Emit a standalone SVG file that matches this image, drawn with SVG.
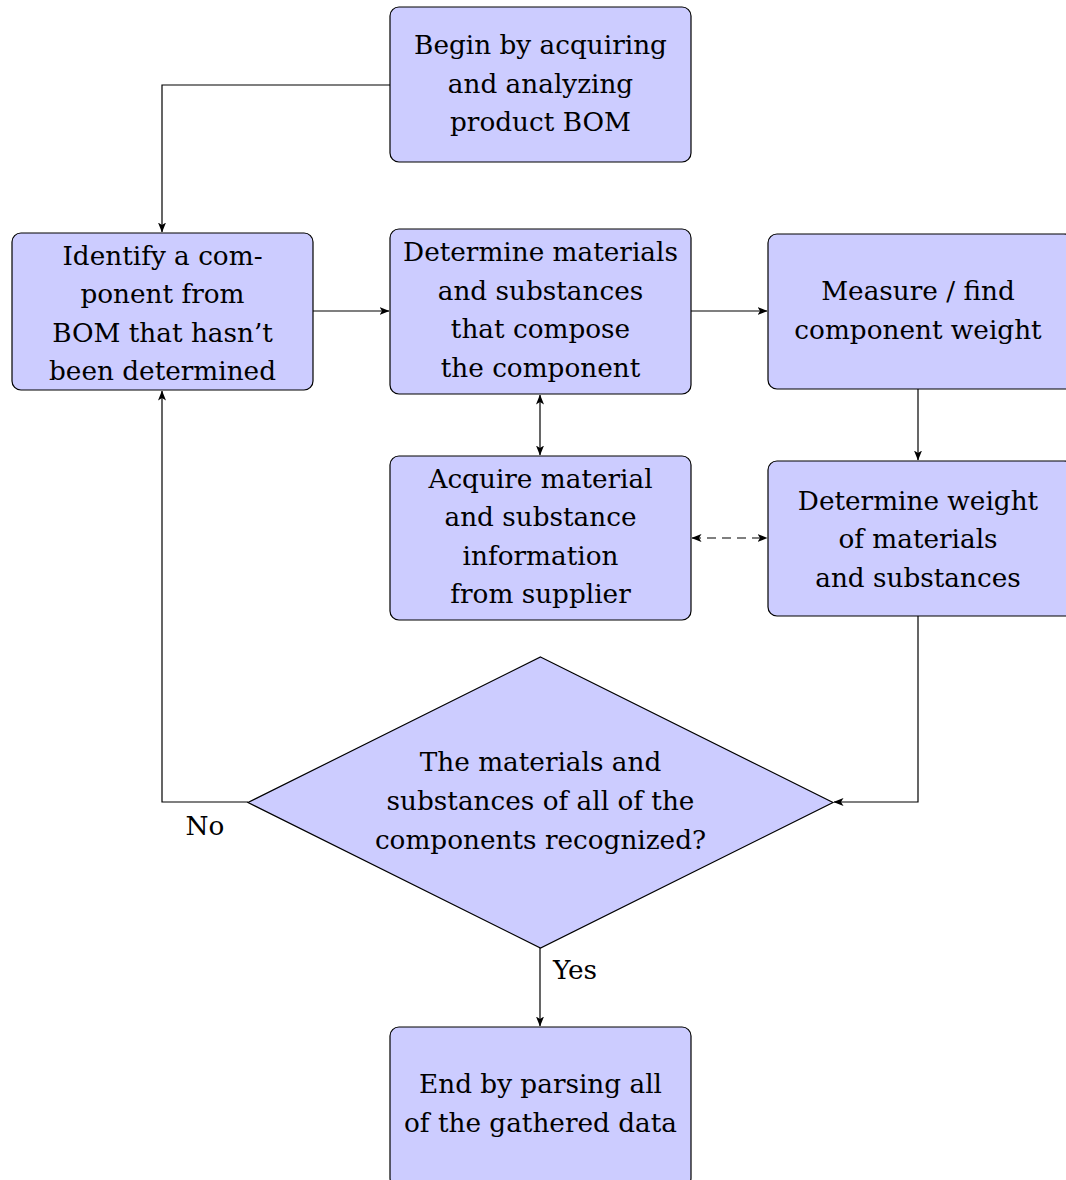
<svg xmlns="http://www.w3.org/2000/svg" width="1066" height="1180" viewBox="0 0 1066 1180">
<style>
.box{fill:#ccccff;stroke:#000;stroke-width:1.2}
.t{font-family:"DejaVu Serif",serif;font-size:26.3px;fill:#000;text-anchor:middle}
.c{fill:none;stroke:#000;stroke-width:1.2}
.d{stroke-dasharray:9,6}
</style>
<defs>
<marker id="a" viewBox="0 0 10 8" refX="9.5" refY="4" markerWidth="10" markerHeight="8" markerUnits="userSpaceOnUse" orient="auto-start-reverse">
<path d="M0,0 L10,4 L0,8 L2.5,4 Z" fill="#000"/>
</marker>
</defs>
<rect width="1066" height="1180" fill="#fff"/>
<g id="connectors">
<path class="c" d="M390,85 H162 V232" marker-end="url(#a)"/>
<path class="c" d="M313,311 H389" marker-end="url(#a)"/>
<path class="c" d="M691,311 H767" marker-end="url(#a)"/>
<path class="c" d="M540,395 V455" marker-start="url(#a)" marker-end="url(#a)"/>
<path class="c" d="M918,389 V460" marker-end="url(#a)"/>
<path class="c d" d="M692,538 H767" marker-start="url(#a)" marker-end="url(#a)"/>
<path class="c" d="M918,616 V802 H834" marker-end="url(#a)"/>
<path class="c" d="M248,802 H162 V391" marker-end="url(#a)"/>
<path class="c" d="M540,948 V1026" marker-end="url(#a)"/>
<text class="t" x="205" y="835">No</text>
<text class="t" x="575" y="979">Yes</text>
</g>
<g id="n1">
<rect class="box" x="390" y="7" width="301" height="155" rx="9"/>
<text class="t" x="540.5" y="54">Begin by acquiring</text>
<text class="t" x="540.5" y="92.5">and analyzing</text>
<text class="t" x="540.5" y="131">product BOM</text>
</g>
<g id="n2">
<rect class="box" x="12" y="233" width="301" height="157" rx="9"/>
<text class="t" x="162.5" y="265">Identify a com-</text>
<text class="t" x="162.5" y="303">ponent from</text>
<text class="t" x="162.5" y="341.5">BOM that hasn’t</text>
<text class="t" x="162.5" y="380">been determined</text>
</g>
<g id="n3">
<rect class="box" x="390" y="229" width="301" height="165" rx="9"/>
<text class="t" x="540.5" y="261">Determine materials</text>
<text class="t" x="540.5" y="299.5">and substances</text>
<text class="t" x="540.5" y="338">that compose</text>
<text class="t" x="540.5" y="376.5">the component</text>
</g>
<g id="n4">
<rect class="box" x="768" y="234" width="305" height="155" rx="9"/>
<text class="t" x="918" y="300">Measure / find</text>
<text class="t" x="918" y="338.5">component weight</text>
</g>
<g id="n5">
<rect class="box" x="390" y="456" width="301" height="164" rx="9"/>
<text class="t" x="540.5" y="487.5">Acquire material</text>
<text class="t" x="540.5" y="526">and substance</text>
<text class="t" x="540.5" y="564.5">information</text>
<text class="t" x="540.5" y="603">from supplier</text>
</g>
<g id="n6">
<rect class="box" x="768" y="461" width="305" height="155" rx="9"/>
<text class="t" x="918" y="509.5">Determine weight</text>
<text class="t" x="918" y="548">of materials</text>
<text class="t" x="918" y="586.5">and substances</text>
</g>
<g id="n7">
<path class="box" d="M540.5,657 L833,802.5 L540.5,948 L248,802.5 Z"/>
<text class="t" x="540.5" y="771">The materials and</text>
<text class="t" x="540.5" y="810">substances of all of the</text>
<text class="t" x="540.5" y="848.5">components recognized?</text>
</g>
<g id="n8">
<rect class="box" x="390" y="1027" width="301" height="160" rx="9"/>
<text class="t" x="540.5" y="1093">End by parsing all</text>
<text class="t" x="540.5" y="1132">of the gathered data</text>
</g>
</svg>
